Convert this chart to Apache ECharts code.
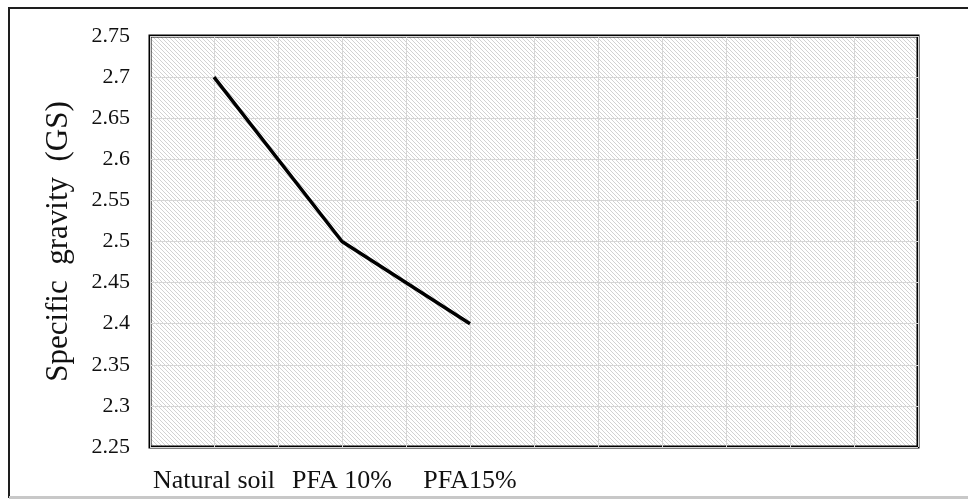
<!DOCTYPE html>
<html>
<head>
<meta charset="utf-8">
<script src="https://cdn.jsdelivr.net/npm/echarts@6/dist/echarts.min.js"></script>
<style>
  html, body { margin: 0; padding: 0; background: #fff; }
  #chart { width: 968px; height: 499px; }
</style>
</head>
<body>
<div id="chart"></div>
<script>
// data
const categories = ['Natural soil', 'PFA 10%', 'PFA15%']
const gsValues = [2.7, 2.5, 2.4]
const emptySlots = ['', '', ''] // axis keeps room for three more samples

const yMin = 2.25
const yMax = 2.75
const yStep = 0.05

// diagonal hatch used as the plot background
const makeHatch = () => {
  const c = document.createElement('canvas')
  c.width = 4
  c.height = 4
  const ctx = c.getContext('2d')
  ctx.fillStyle = '#ffffff'
  ctx.fillRect(0, 0, 4, 4)
  ctx.strokeStyle = '#c6c6c6'
  ctx.lineWidth = 0.8
  ctx.beginPath()
  ctx.moveTo(-1, -1)
  ctx.lineTo(5, 5)
  ctx.moveTo(-1, 3)
  ctx.lineTo(1, 5)
  ctx.moveTo(3, -1)
  ctx.lineTo(5, 1)
  ctx.stroke()
  return c
}

const chart = echarts.init(document.getElementById('chart'))
const font = 'Liberation Serif'

const option = {
  animation: false,
  graphic: [
    {
      type: 'polyline',
      shape: { points: [[9, 498], [9, 8], [968, 8]] },
      style: { stroke: '#1e1e1e', lineWidth: 2, fill: null }
    },
    {
      type: 'line',
      shape: { x1: 9, y1: 497.5, x2: 968, y2: 497.5 },
      style: { stroke: '#c8c8c8', lineWidth: 3 }
    }
  ],
  grid: {
    left: 150,
    right: 50,
    top: 36,
    bottom: 52,
    show: true,
    backgroundColor: { image: makeHatch(), repeat: 'repeat' },
    borderColor: '#000',
    borderWidth: 3
  },
  xAxis: [
    {
      type: 'category',
      data: categories.concat(emptySlots),
      boundaryGap: true,
      axisLine: { show: false },
      axisTick: { show: false },
      splitLine: { show: false },
      axisLabel: {
        interval: 0,
        margin: 21,
        color: '#111',
        fontFamily: font,
        fontSize: 26
      }
    },
    {
      // only draws the light vertical grid, two lines per sample slot
      type: 'category',
      data: categories.concat(emptySlots).flatMap(() => ['', '']),
      boundaryGap: true,
      position: 'bottom',
      axisLine: { show: false },
      axisTick: { show: false },
      axisLabel: { show: false },
      splitLine: { show: true, interval: 0, lineStyle: { color: '#d6d6d6', width: 1 } }
    }
  ],
  yAxis: {
    type: 'value',
    min: yMin,
    max: yMax,
    interval: yStep,
    name: 'Specific  gravity  (GS)',
    nameLocation: 'middle',
    nameGap: 76,
    nameTextStyle: { color: '#111', fontFamily: font, fontSize: 31 },
    axisLine: { show: false },
    axisTick: { show: false },
    axisLabel: {
      margin: 20,
      color: '#111',
      fontFamily: font,
      fontSize: 22,
      formatter: (v) => String(+v.toFixed(2))
    },
    splitLine: { show: true, lineStyle: { color: '#d6d6d6', width: 1 } }
  },
  series: [
    {
      name: 'GS',
      type: 'line',
      xAxisIndex: 0,
      data: gsValues,
      symbol: 'none',
      lineStyle: { color: '#000', width: 3.5 }
    }
  ]
}

chart.setOption(option)
</script>
</body>
</html>
